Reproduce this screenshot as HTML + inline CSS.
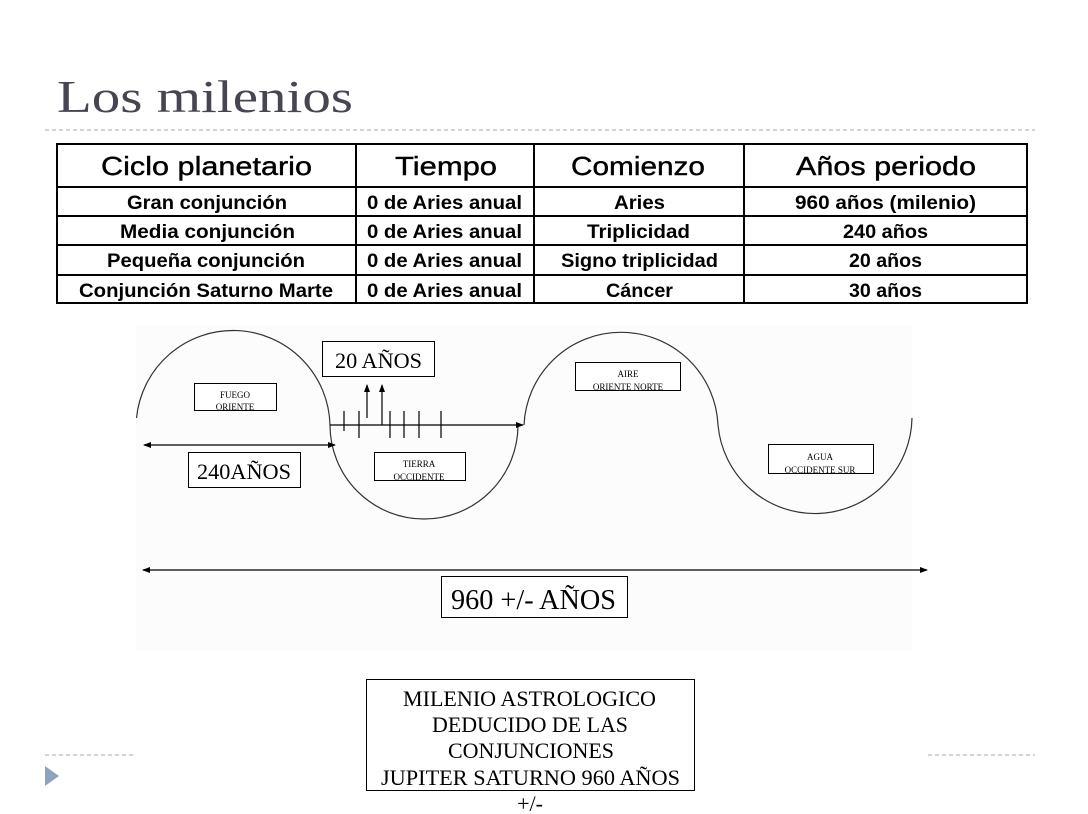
<!DOCTYPE html>
<html><head><meta charset="utf-8"><style>
html,body{margin:0;padding:0;background:#fff;}
svg{display:block;}
</style></head><body>
<svg width="1088" height="814" viewBox="0 0 1088 814" xmlns="http://www.w3.org/2000/svg">
<defs>
<marker id="ah" markerWidth="8" markerHeight="8" refX="7" refY="4" orient="auto" markerUnits="userSpaceOnUse">
<path d="M0,1 L8,4 L0,7 Z" fill="#000"/></marker>
<marker id="as" markerWidth="8" markerHeight="8" refX="1" refY="4" orient="auto" markerUnits="userSpaceOnUse">
<path d="M8,1 L0,4 L8,7 Z" fill="#000"/></marker>
</defs>
<text x="57" y="112" font-family="Liberation Serif, serif" font-size="46" fill="#464653" textLength="296" lengthAdjust="spacingAndGlyphs">Los milenios</text>
<line x1="45" y1="130" x2="1035" y2="130" stroke="#aaa" stroke-dasharray="4,3"/>
<line x1="45" y1="755" x2="133" y2="755" stroke="#aaa" stroke-dasharray="4,3"/>
<line x1="928" y1="755" x2="1035" y2="755" stroke="#aaa" stroke-dasharray="4,3"/>
<path d="M45,766 L59,776 L45,786 Z" fill="#8fa3bf"/>

<!-- table -->
<g stroke="#000" stroke-width="2" fill="none">
<rect x="57" y="144" width="970" height="159"/>
<line x1="57" y1="187" x2="1027" y2="187"/>
<line x1="57" y1="216" x2="1027" y2="216"/>
<line x1="57" y1="245" x2="1027" y2="245"/>
<line x1="57" y1="275" x2="1027" y2="275"/>
<line x1="356" y1="144" x2="356" y2="303"/>
<line x1="534" y1="144" x2="534" y2="303"/>
<line x1="744" y1="144" x2="744" y2="303"/>
</g>
<g font-family="Liberation Sans, sans-serif" fill="#000">
<g stroke="#000" stroke-width="0.4">
<text x="101" y="175" font-size="26" textLength="211" lengthAdjust="spacingAndGlyphs">Ciclo planetario</text>
<text x="395" y="175" font-size="26" textLength="102" lengthAdjust="spacingAndGlyphs">Tiempo</text>
<text x="571" y="175" font-size="26" textLength="134" lengthAdjust="spacingAndGlyphs">Comienzo</text>
<text x="796" y="175" font-size="26" textLength="180" lengthAdjust="spacingAndGlyphs">Años periodo</text>
</g>
<g font-weight="bold" font-size="19">
<text x="127" y="209" textLength="160" lengthAdjust="spacingAndGlyphs">Gran conjunción</text>
<text x="367" y="209" textLength="155" lengthAdjust="spacingAndGlyphs">0 de Aries anual</text>
<text x="614" y="209" textLength="51" lengthAdjust="spacingAndGlyphs">Aries</text>
<text x="795" y="209" textLength="181" lengthAdjust="spacingAndGlyphs">960 años (milenio)</text>
<text x="120" y="238" textLength="175" lengthAdjust="spacingAndGlyphs">Media conjunción</text>
<text x="367" y="238" textLength="155" lengthAdjust="spacingAndGlyphs">0 de Aries anual</text>
<text x="587" y="238" textLength="103" lengthAdjust="spacingAndGlyphs">Triplicidad</text>
<text x="843" y="238" textLength="85" lengthAdjust="spacingAndGlyphs">240 años</text>
<text x="107" y="267" textLength="198" lengthAdjust="spacingAndGlyphs">Pequeña conjunción</text>
<text x="367" y="267" textLength="155" lengthAdjust="spacingAndGlyphs">0 de Aries anual</text>
<text x="561" y="267" textLength="157" lengthAdjust="spacingAndGlyphs">Signo triplicidad</text>
<text x="849" y="267" textLength="73" lengthAdjust="spacingAndGlyphs">20 años</text>
<text x="79" y="297" textLength="254" lengthAdjust="spacingAndGlyphs">Conjunción Saturno Marte</text>
<text x="367" y="297" textLength="155" lengthAdjust="spacingAndGlyphs">0 de Aries anual</text>
<text x="606" y="297" textLength="67" lengthAdjust="spacingAndGlyphs">Cáncer</text>
<text x="849" y="297" textLength="73" lengthAdjust="spacingAndGlyphs">30 años</text>
</g></g>

<!-- diagram -->
<rect x="136" y="325" width="776" height="326" fill="#fcfcfc"/>
<g fill="none" stroke="#333" stroke-width="1.2">
<path d="M136.5,418 A97,97 0 0 1 330,425"/>
<path d="M330,425 A94,94 0 0 0 518,425"/>
<path d="M524,425 A97.1,97.1 0 0 1 718,425"/>
<path d="M718,425 A97.2,97.2 0 0 0 912,418"/>
</g>
<g stroke="#000" stroke-width="1.2" fill="none">
<line x1="330" y1="425" x2="523" y2="425" marker-end="url(#ah)"/>
<line x1="344" y1="411" x2="344" y2="431"/>
<line x1="359" y1="411" x2="359" y2="438"/>
<line x1="390" y1="411" x2="390" y2="438"/>
<line x1="404" y1="411" x2="404" y2="438"/>
<line x1="419" y1="411" x2="419" y2="438"/>
<line x1="441" y1="411" x2="441" y2="438"/>
<line x1="367" y1="418" x2="367" y2="385" marker-end="url(#ah)"/>
<line x1="382" y1="425" x2="382" y2="385" marker-end="url(#ah)"/>
<line x1="144" y1="445" x2="335" y2="445" marker-start="url(#as)" marker-end="url(#ah)"/>
<line x1="143" y1="570" x2="927" y2="570" marker-start="url(#as)" marker-end="url(#ah)"/>
</g>
<g fill="#fff" stroke="#000" stroke-width="1">
<rect x="194.5" y="383.5" width="82" height="27"/>
<rect x="322.5" y="341.5" width="112" height="35"/>
<rect x="188.5" y="452.5" width="112" height="35"/>
<rect x="374.5" y="452.5" width="91" height="28"/>
<rect x="575.5" y="362.5" width="105" height="28"/>
<rect x="768.5" y="444.5" width="105" height="29"/>
<rect x="441.5" y="576.5" width="186" height="41"/>
<rect x="366.5" y="679.5" width="328" height="111"/>
</g>
<g font-family="Liberation Serif, serif" fill="#000">
<g font-size="9" text-anchor="middle">
<text x="235" y="398">FUEGO</text><text x="235" y="410">ORIENTE</text>
<text x="419" y="467">TIERRA</text><text x="419" y="480">OCCIDENTE</text>
<text x="628" y="377">AIRE</text><text x="628" y="390">ORIENTE NORTE</text>
<text x="820" y="460">AGUA</text><text x="820" y="473">OCCIDENTE SUR</text>
</g>
<text x="335" y="368" font-size="22" textLength="87" lengthAdjust="spacingAndGlyphs">20 AÑOS</text>
<text x="197" y="479" font-size="22" textLength="94" lengthAdjust="spacingAndGlyphs">240AÑOS</text>
<text x="451" y="609" font-size="28" textLength="165" lengthAdjust="spacingAndGlyphs">960 +/- AÑOS</text>
<g font-size="22">
<text x="403" y="706" textLength="253" lengthAdjust="spacingAndGlyphs">MILENIO ASTROLOGICO</text>
<text x="432" y="732" textLength="196" lengthAdjust="spacingAndGlyphs">DEDUCIDO DE LAS</text>
<text x="448" y="758" textLength="166" lengthAdjust="spacingAndGlyphs">CONJUNCIONES</text>
<text x="381" y="785" textLength="299" lengthAdjust="spacingAndGlyphs">JUPITER SATURNO 960 AÑOS</text>
<text x="530" y="811" text-anchor="middle">+/-</text>
</g></g>
</svg>
</body></html>
